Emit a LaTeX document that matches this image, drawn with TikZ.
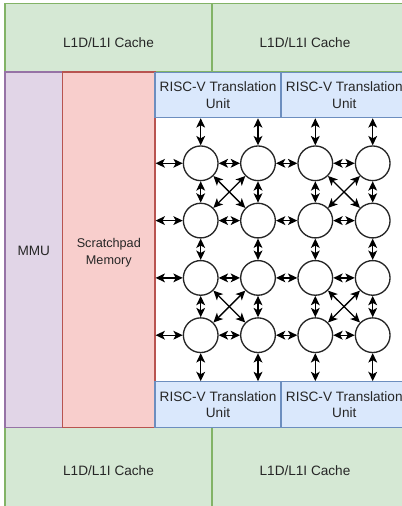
\documentclass[tikz,border=0pt]{standalone}
\usepackage{fontspec}
\setmainfont{Liberation Sans}
\usetikzlibrary{arrows.meta,fit}
\definecolor{gfill}{HTML}{D5E8D4}\definecolor{gdraw}{HTML}{82B366}
\definecolor{pfill}{HTML}{E1D5E7}\definecolor{pdraw}{HTML}{9673A6}
\definecolor{rfill}{HTML}{F8CECC}\definecolor{rdraw}{HTML}{B85450}
\definecolor{bfill}{HTML}{DAE8FC}\definecolor{bdraw}{HTML}{6C8EBF}
\definecolor{txt}{HTML}{262626}
\begin{document}
\begin{tikzpicture}[x=0.75pt,y=-0.75pt,
  box/.style={draw, inner sep=0pt, line width=0.85pt},
  cache/.style={box, fill=gfill, draw=gdraw},
  mmubox/.style={box, fill=pfill, draw=pdraw},
  spbox/.style={box, fill=rfill, draw=rdraw},
  tubox/.style={box, fill=bfill, draw=bdraw, text=txt, align=center,
    font=\fontsize{10.1pt}{12.5pt}\selectfont},
  lbl/.style={text=txt, inner sep=0pt, align=center, font=\fontsize{10.2pt}{12.5pt}\selectfont},
  smalllbl/.style={text=txt, inner sep=0pt, align=center, font=\fontsize{9.5pt}{12.5pt}\selectfont},
  circ/.style={circle, draw=black!85, fill=white, line width=1pt, minimum size=26pt, inner sep=0pt},
  biarrow/.style={{Stealth[length=7pt,width=6.6pt,inset=1.8pt]}-{Stealth[length=7pt,width=6.6pt,inset=1.8pt]},
    line width=1pt, draw=black}]
\useasboundingbox (0,0) rectangle (402,506);
\clip (0,0) rectangle (402,506);
% caches
\node[cache, fit={(5,3.7) (212,72)}] (cTL) {};
\node[cache, fit={(212,3.7) (420,72)}] (cTR) {};
\node[cache, fit={(5,427.5) (212,520)}] (cBL) {};
\node[cache, fit={(212,427.5) (420,520)}] (cBR) {};
\node[lbl, anchor=base] (tTL) at (108.5,47.7) {L1D/L1I Cache};
\node[lbl, anchor=base] (tTR) at (305,47.7) {L1D/L1I Cache};
\node[lbl, anchor=base] (tBL) at (108.5,475) {L1D/L1I Cache};
\node[lbl, anchor=base] (tBR) at (305,475) {L1D/L1I Cache};
% MMU and scratchpad
\node[mmubox, fit={(5,72) (62.7,427.5)}] (mmu) {};
\node[lbl, anchor=base] (tmmu) at (33.8,255.5) {MMU};
\node[spbox, fit={(62.7,72) (155,427.5)}] (sp) {};
\node[smalllbl] (tsp) at (108.8,252.7) {Scratchpad\\Memory};
% translation units
\node[tubox, fit={(155,72.7) (281,117.7)}] (tuA) {};
\node[tubox, fit={(281,72.7) (407.6,117.7)}] (tuB) {};
\node[tubox, fit={(155,381.7) (281,427.5)}] (buA) {};
\node[tubox, fit={(281,381.7) (407.6,427.5)}] (buB) {};
\node[lbl] (ttuA) at (tuA.center) {RISC-V Translation\\Unit};
\node[lbl] (ttuB) at (tuB.center) {RISC-V Translation\\Unit};
\node[lbl] (tbuA) at (buA.center) {RISC-V Translation\\Unit};
\node[lbl] (tbuB) at (buB.center) {RISC-V Translation\\Unit};
% routers
\foreach \r/\y in {1/163.3,2/220.6,3/277.9,4/335.2}
  \foreach \c/\x in {1/200.7,2/258,3/315.3,4/372.7}
    \node[circ] (c\r\c) at (\x,\y) {};
% links to translation units
\foreach \c in {1,2} {
  \draw[biarrow] (c1\c) -- (c1\c |- tuA.south);
  \draw[biarrow] (c4\c) -- (c4\c |- buA.north);
}
\foreach \c in {3,4} {
  \draw[biarrow] (c1\c) -- (c1\c |- tuB.south);
  \draw[biarrow] (c4\c) -- (c4\c |- buB.north);
}
% links to scratchpad
\foreach \r in {1,...,4}
  \draw[biarrow] (c\r1) -- (c\r1 -| sp.east);
% mesh links
\foreach \r in {1,...,4}
  \foreach \c/\n in {1/2,2/3,3/4}
    \draw[biarrow] (c\r\c) -- (c\r\n);
\foreach \c in {1,...,4}
  \foreach \r/\n in {1/2,2/3,3/4}
    \draw[biarrow] (c\r\c) -- (c\n\c);
% diagonals
\foreach \r/\n in {1/2,3/4}
  \foreach \c/\m in {1/2,3/4} {
    \draw[biarrow] (c\r\c) -- (c\n\m);
    \draw[biarrow] (c\r\m) -- (c\n\c);
  }
\end{tikzpicture}
\end{document}
